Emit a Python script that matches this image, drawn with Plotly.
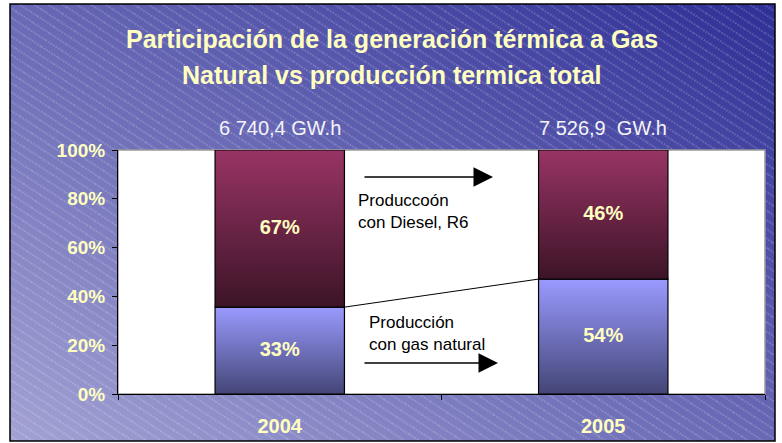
import base64
import plotly.graph_objects as go

# ---------------- data ----------------
years = ["2004", "2005"]
gas_pct = [35.6, 47.1]          # bar heights as drawn (gas natural)
diesel_pct = [64.4, 52.9]       # bar heights as drawn (Diesel, R6)
gas_labels = ["33%", "54%"]
diesel_labels = ["67%", "46%"]
totals = ["6 740,4 GW.h", "7 526,9  GW.h"]
y_ticks = [0, 20, 40, 60, 80, 100]
y_tick_text = [f"{v}%" for v in y_ticks]

title_1 = "Participación de la generación térmica a Gas"
title_2 = "Natural vs producción termica total"
note_diesel = "Produccoón<br>con Diesel, R6"
note_gas = "Producción<br>con gas natural"

# ---------------- layout constants ----------------
W, H = 782, 443
ML, MR, MT, MB = 118, 17, 150, 49
PW, PH = W - ML - MR, H - MT - MB
HALF = 0.2
YEL = "#ffffc0"
FONT = "Liberation Sans, Arial, sans-serif"

def px_x(p):
    return (p - ML) / PW

def px_y(p):
    return (H - MB - p) / PH

# background (gradient + diagonal stripes + frame) as SVG image
svg = f'''<svg xmlns="http://www.w3.org/2000/svg" width="{W}" height="{H}" viewBox="0 0 {W} {H}">
<defs>
<linearGradient id="g" x1="0" y1="1" x2="1" y2="0">
<stop offset="0" stop-color="#a2a2d4"/><stop offset="1" stop-color="#2e2e96"/>
</linearGradient>
<pattern id="p" patternUnits="userSpaceOnUse" width="20" height="7.8" patternTransform="rotate(33)">
<line x1="0" y1="1" x2="20" y2="1" stroke="#ffffff" stroke-opacity="0.42" stroke-width="1" stroke-dasharray="1.5 1.5"/>
</pattern>
</defs>
<rect width="{W}" height="{H}" fill="white"/>
<rect x="10" y="4" width="765" height="437" fill="url(#g)"/>
<rect x="10" y="4" width="765" height="437" fill="url(#p)" stroke="black" stroke-width="1.5"/>
</svg>'''
bg_uri = "data:image/svg+xml;base64," + base64.b64encode(svg.encode()).decode()

fig = go.Figure()

# stacked bars with vertical gradients
for i, yr in enumerate(years):
    g = gas_pct[i]
    d = diesel_pct[i]
    x0, x1 = i - HALF, i + HALF
    fig.add_trace(go.Scatter(
        x=[x0, x1, x1, x0, x0], y=[0, 0, g, g, 0],
        mode="lines", fill="toself",
        fillgradient=dict(type="vertical",
                          colorscale=[[0, "#434576"], [1, "#9a9aff"]]),
        line=dict(color="black", width=1.2),
        name="Producción con gas natural", showlegend=False, hoverinfo="skip"))
    fig.add_trace(go.Scatter(
        x=[x0, x1, x1, x0, x0], y=[g, g, g + d, g + d, g],
        mode="lines", fill="toself",
        fillgradient=dict(type="vertical",
                          colorscale=[[0, "#3c1427"], [1, "#983464"]]),
        line=dict(color="black", width=1.2),
        name="Producción con Diesel, R6", showlegend=False, hoverinfo="skip"))

# series line between the gas segments
fig.add_trace(go.Scatter(
    x=[0 + HALF, 1 - HALF], y=[gas_pct[0], gas_pct[1]],
    mode="lines", line=dict(color="black", width=1),
    showlegend=False, hoverinfo="skip"))

# data labels
fig.add_trace(go.Scatter(
    x=[0, 1], y=[g / 2 for g in gas_pct], mode="text", text=gas_labels,
    textfont=dict(family=FONT, size=20, color=YEL, weight="bold"),
    showlegend=False, hoverinfo="skip"))
fig.add_trace(go.Scatter(
    x=[0, 1], y=[g + d / 2 for g, d in zip(gas_pct, diesel_pct)],
    mode="text", text=diesel_labels,
    textfont=dict(family=FONT, size=20, color=YEL, weight="bold"),
    showlegend=False, hoverinfo="skip"))

annotations = [
    dict(text=f"<b>{title_1}</b>", x=px_x(392), y=px_y(39), xref="paper", yref="paper",
         xanchor="center", yanchor="middle",
         showarrow=False, font=dict(family=FONT, size=25, color=YEL)),
    dict(text=f"<b>{title_2}</b>", x=px_x(392), y=px_y(75), xref="paper", yref="paper",
         xanchor="center", yanchor="middle",
         showarrow=False, font=dict(family=FONT, size=25, color=YEL)),
    dict(text=note_diesel, x=px_x(356), y=px_y(211.5), xref="paper", yref="paper",
         xanchor="left", yanchor="middle", align="left", showarrow=False,
         font=dict(family=FONT, size=17, color="black")),
    dict(text=note_gas, x=px_x(367), y=px_y(333.5), xref="paper", yref="paper",
         xanchor="left", yanchor="middle", align="left", showarrow=False,
         font=dict(family=FONT, size=17, color="black")),
    dict(text="", x=px_x(493), y=px_y(177), xref="paper", yref="paper",
         ax=-130, ay=0, showarrow=True, arrowhead=2, arrowsize=2.6,
         arrowwidth=1.5, arrowcolor="black"),
    dict(text="", x=px_x(498), y=px_y(363), xref="paper", yref="paper",
         ax=-135, ay=0, showarrow=True, arrowhead=2, arrowsize=2.6,
         arrowwidth=1.5, arrowcolor="black"),
]
for i, t in enumerate(totals):
    annotations.append(dict(text=t, x=i, y=px_y(128), xref="x", yref="paper",
                            xanchor="center", yanchor="middle",
                            showarrow=False,
                            font=dict(family=FONT, size=20, color="#f4f4f8")))

fig.update_layout(
    width=W, height=H,
    margin=dict(l=ML, r=MR, t=MT, b=MB, pad=0),
    paper_bgcolor="white", plot_bgcolor="rgba(0,0,0,0)",
    font=dict(family=FONT),
    showlegend=False,
    annotations=annotations,
    images=[dict(source=bg_uri, xref="paper", yref="paper",
                 x=-ML / PW, y=1 + MT / PH, sizex=W / PW, sizey=H / PH,
                 xanchor="left", yanchor="top", sizing="stretch", layer="below")],
    shapes=[dict(type="rect", xref="paper", yref="paper", x0=0, x1=1, y0=0, y1=1,
                 fillcolor="white", line=dict(color="#9a9a9a", width=1.5),
                 layer="below")],
    xaxis=dict(range=[-0.5, 1.5], tickvals=[0, 1], ticktext=years, ticks="",
               showgrid=False, zeroline=False, showline=True, linecolor="black",
               linewidth=1, ticklabelstandoff=14, automargin=False,
               tickfont=dict(family=FONT, size=20, color=YEL, weight="bold"),
               minor=dict(tick0=-0.5, dtick=1, ticks="outside", ticklen=5,
                          tickcolor="black", showgrid=False),
               fixedrange=True),
    yaxis=dict(range=[0, 100], tickvals=y_ticks, ticktext=y_tick_text,
               ticks="outside", ticklen=5, tickcolor="black",
               showgrid=False, zeroline=False, showline=True, linecolor="black",
               linewidth=1, ticklabelstandoff=3, automargin=False,
               tickfont=dict(family=FONT, size=19, color=YEL, weight="bold"),
               fixedrange=True),
)

fig.write_html("out.html", config={"displayModeBar": False},
               post_script="document.body.style.margin='0';")
